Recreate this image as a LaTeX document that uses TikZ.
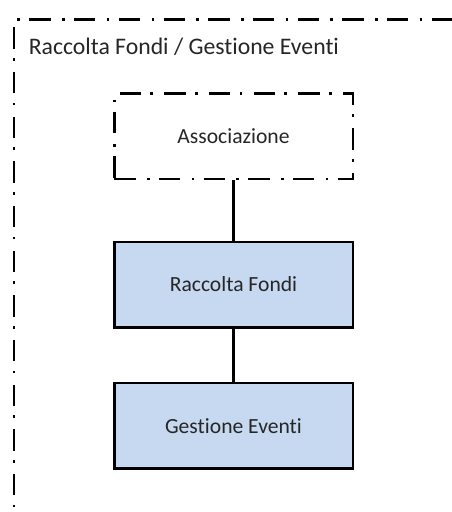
\documentclass[tikz,border=0pt]{standalone}
\usepackage{fontspec}
\setmainfont{Carlito}[Ligatures=NoCommon]
\definecolor{boxblue}{RGB}{198,217,240}

\begin{document}
\begin{tikzpicture}[x=0.75pt, y=-0.75pt,
  dashdot/.style={dash pattern=on 16pt off 8.5pt on 2pt off 7pt},
  unit/.style={draw, line width=2pt, minimum width=179pt, minimum height=64pt, inner sep=0pt, font=\fontsize{16.2}{19}\selectfont, text=black!85}]
  % Canvas
  \useasboundingbox (0,0) rectangle (452,512);
  \clip (0,0) rectangle (452,512);

  % Outer frame (runs off the page to the right and below)
  \coordinate (frameBL) at (14,540);
  \coordinate (frameTL) at (14,19.5);
  \coordinate (frameTR) at (480,19.5);
  \draw[dashdot, line width=2.2pt] (frameBL) -- (frameTL) -- (frameTR);
  \node[anchor=base west, inner sep=0pt, font=\fontsize{17.8}{21}\selectfont, text=black!85] (title) at (28.5,54) {Raccolta Fondi / Gestione Eventi};

  % Boxes
  \node[unit, dashdot, fill=white] (assoc) at (233.5,136.3) {Associazione};
  \node[unit, fill=boxblue] (fondi) at (233.5,284.5) {Raccolta Fondi};
  \node[unit, fill=boxblue] (eventi) at (233.5,425.8) {Gestione Eventi};

  % Links
  \draw[line width=2pt] (assoc) -- (fondi);
  \draw[line width=2pt] (fondi) -- (eventi);
\end{tikzpicture}
\end{document}
